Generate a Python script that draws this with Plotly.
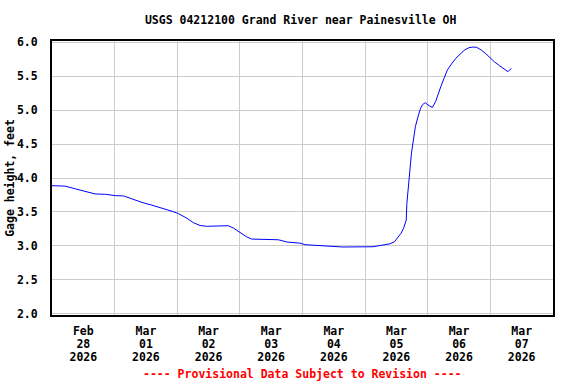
import plotly.graph_objects as go

# ---- data ----
times = [
    "2026-02-28 00:00", "2026-02-28 05:00", "2026-02-28 09:00", "2026-02-28 12:45",
    "2026-02-28 16:30", "2026-02-28 20:30", "2026-03-01 00:15", "2026-03-01 03:30",
    "2026-03-01 06:45", "2026-03-01 10:30", "2026-03-01 14:15", "2026-03-01 18:00",
    "2026-03-01 22:00", "2026-03-02 00:30", "2026-03-02 03:45", "2026-03-02 06:15",
    "2026-03-02 08:45", "2026-03-02 11:15", "2026-03-02 16:30", "2026-03-02 19:30",
    "2026-03-02 21:30", "2026-03-03 00:00", "2026-03-03 02:30", "2026-03-03 04:30",
    "2026-03-03 09:00", "2026-03-03 14:45", "2026-03-03 18:00", "2026-03-03 23:00",
    "2026-03-04 01:00", "2026-03-04 05:15", "2026-03-04 10:30", "2026-03-04 15:30",
    "2026-03-05 03:00", "2026-03-05 06:15", "2026-03-05 09:30", "2026-03-05 11:15",
    "2026-03-05 12:30", "2026-03-05 13:45", "2026-03-05 14:45", "2026-03-05 15:45",
    "2026-03-05 16:00", "2026-03-05 16:30", "2026-03-05 17:00", "2026-03-05 17:45",
    "2026-03-05 18:30", "2026-03-05 19:15", "2026-03-05 20:15", "2026-03-05 21:15",
    "2026-03-05 22:00", "2026-03-05 23:00", "2026-03-06 00:30", "2026-03-06 01:45",
    "2026-03-06 03:00", "2026-03-06 03:45", "2026-03-06 05:00", "2026-03-06 06:15",
    "2026-03-06 07:30", "2026-03-06 09:00", "2026-03-06 10:45", "2026-03-06 12:45",
    "2026-03-06 14:00", "2026-03-06 15:45", "2026-03-06 17:15", "2026-03-06 18:45",
    "2026-03-06 20:30", "2026-03-06 22:15", "2026-03-07 00:00", "2026-03-07 01:30",
    "2026-03-07 03:30", "2026-03-07 05:15", "2026-03-07 06:45", "2026-03-07 08:00",
]
gage_height = [
    3.887, 3.88, 3.84, 3.80,
    3.765, 3.76, 3.74, 3.735,
    3.686, 3.64, 3.60, 3.56,
    3.51, 3.474, 3.406, 3.34,
    3.30, 3.288, 3.30, 3.297,
    3.263, 3.20, 3.135, 3.10,
    3.097, 3.09, 3.057, 3.04,
    3.017, 3.008, 2.99, 2.983,
    2.987, 3.008, 3.03, 3.06,
    3.12, 3.185, 3.26, 3.38,
    3.627, 3.872, 4.118, 4.364,
    4.56, 4.756, 4.90, 5.027,
    5.08, 5.11, 5.066, 5.04,
    5.125, 5.22, 5.346, 5.47,
    5.59, 5.676, 5.764, 5.838,
    5.882, 5.92, 5.93, 5.926,
    5.886, 5.832, 5.764, 5.714,
    5.655, 5.60, 5.567, 5.617,
]

grid_days = ["2026-03-01", "2026-03-02", "2026-03-03", "2026-03-04",
             "2026-03-05", "2026-03-06", "2026-03-07"]
label_days = ["2026-02-28 12:00", "2026-03-01 12:00", "2026-03-02 12:00", "2026-03-03 12:00",
              "2026-03-04 12:00", "2026-03-05 12:00", "2026-03-06 12:00", "2026-03-07 12:00"]
label_month = ["Feb", "Mar", "Mar", "Mar", "Mar", "Mar", "Mar", "Mar"]
label_day = ["28", "01", "02", "03", "04", "05", "06", "07"]
label_year = ["2026"] * 8
y_ticks = [2.0, 2.5, 3.0, 3.5, 4.0, 4.5, 5.0, 5.5, 6.0]

x_range = ["2026-02-28 00:00", "2026-03-08 00:00"]
y_range = [1.981, 6.019]

FONT = "DejaVu Sans Mono"
tickfont = dict(family=FONT, size=11.5, color="black", weight="bold")

fig = go.Figure()
fig.add_trace(go.Scatter(x=times, y=gage_height, mode="lines",
                         line=dict(color="#0000ff", width=1),
                         showlegend=False, hoverinfo="skip"))
for ax in ["x2", "x3", "x4"]:
    fig.add_trace(go.Scatter(x=label_days, y=[None] * len(label_days), xaxis=ax,
                             mode="markers", showlegend=False, hoverinfo="skip"))

label_axis = dict(overlaying="x", anchor="y", side="bottom", range=x_range,
                  type="date", tickmode="array", tickvals=label_days,
                  showgrid=False, zeroline=False, showline=False, ticks="",
                  tickfont=tickfont, automargin=False)

fig.update_layout(
    width=576, height=384,
    margin=dict(l=52, r=23, t=41, b=69, autoexpand=False),
    paper_bgcolor="white", plot_bgcolor="white",
    title=dict(text="USGS 04212100 Grand River near Painesville OH",
               x=0.522, xanchor="center", y=1 - 20 / 384, yanchor="middle",
               font=dict(family=FONT, size=11.5, color="black", weight="bold"),
               automargin=False),
    xaxis=dict(range=x_range, type="date", tickmode="array", tickvals=grid_days,
               showticklabels=False, ticks="", showgrid=True, gridcolor="#cccccc",
               gridwidth=1, zeroline=False, showline=True, mirror=True,
               linecolor="black", linewidth=2, automargin=False),
    xaxis2=dict(label_axis, ticktext=label_month, ticklabelstandoff=7),
    xaxis3=dict(label_axis, ticktext=label_day, ticklabelstandoff=20),
    xaxis4=dict(label_axis, ticktext=label_year, ticklabelstandoff=33),
    yaxis=dict(range=y_range, tickmode="array", tickvals=y_ticks, tickformat=".1f",
               ticks="", showgrid=True, gridcolor="#cccccc", gridwidth=1,
               zeroline=False, showline=True, mirror=True, linecolor="black",
               linewidth=2, tickfont=tickfont, ticklabelstandoff=10, automargin=False,
               title=dict(text="Gage height, feet", standoff=0,
                          font=dict(family=FONT, size=11.5, color="black", weight="bold"))),
    annotations=[dict(text="---- Provisional Data Subject to Revision ----",
                      xref="paper", yref="paper", x=0.5, y=(315 - 374) / 274,
                      xanchor="center", yanchor="middle", showarrow=False,
                      font=dict(family=FONT, size=11.5, color="red", weight="bold"))],
)

fig.write_html("out.html", config={"displayModeBar": False},
               post_script="document.body.style.margin='0';")
